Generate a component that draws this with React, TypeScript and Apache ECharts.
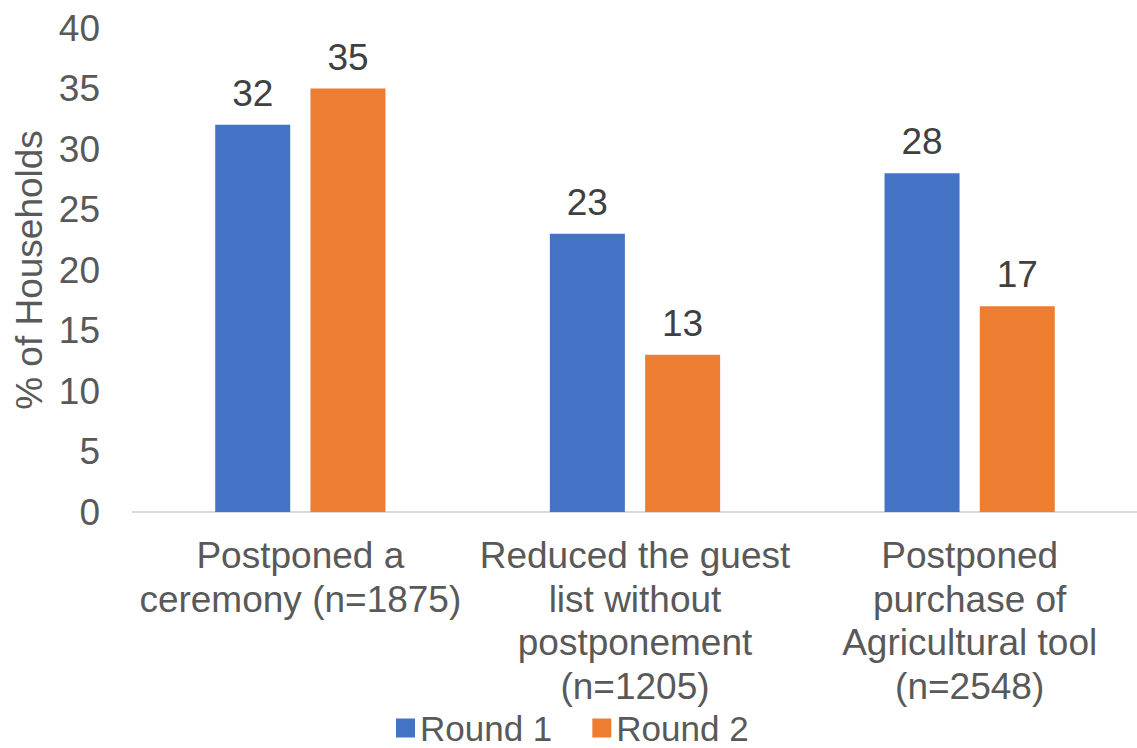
import React, { useEffect, useRef } from "react";
import * as echarts from "echarts";

const categories = [
  "Postponed a\nceremony (n=1875)",
  "Reduced the guest\nlist without\npostponement\n(n=1205)",
  "Postponed\npurchase of\nAgricultural tool\n(n=2548)",
];
const round1 = [32, 23, 28];
const round2 = [35, 13, 17];
const seriesNames = ["Round 1", "Round 2"];
const yTicks = { min: 0, max: 40, interval: 5 };

export default function App() {
  const ref = useRef<HTMLDivElement>(null);
  useEffect(() => {
    if (!ref.current) return;
    const chart = echarts.init(ref.current, null, { renderer: "svg" });
    const font = "Arial, 'Liberation Sans', sans-serif";
    const fs = 37;
    const labelStyle = {
      show: true,
      position: "top",
      distance: 13,
      color: "#404040",
      fontSize: fs,
      fontFamily: font,
    };
    chart.setOption({
      animation: false,
      backgroundColor: "#ffffff",
      textStyle: { fontFamily: font },
      grid: { left: 133, top: 28, width: 1011, height: 484, containLabel: false },
      legend: {
        data: seriesNames,
        left: 396,
        top: 708,
        itemWidth: 19,
        itemHeight: 19,
        itemGap: 40,
        icon: "rect",
        padding: 0,
        textStyle: { color: "#595959", fontSize: 35, fontFamily: font, lineHeight: 40 },
      },
      xAxis: {
        type: "category",
        data: categories,
        axisLine: { lineStyle: { color: "#d9d9d9", width: 2 } },
        axisTick: { show: false },
        axisLabel: {
          color: "#595959",
          fontSize: fs,
          fontFamily: font,
          lineHeight: 43.5,
          margin: 22,
          interval: 0,
          align: "center",
        },
      },
      yAxis: {
        type: "value",
        min: yTicks.min,
        max: yTicks.max,
        interval: yTicks.interval,
        name: "% of Households",
        nameLocation: "middle",
        nameGap: 83,
        nameRotate: 90,
        nameTextStyle: { color: "#595959", fontSize: fs, fontFamily: font },
        splitLine: { show: false },
        axisLine: { show: false },
        axisTick: { show: false },
        axisLabel: { color: "#595959", fontSize: fs, fontFamily: font, margin: 33 },
      },
      series: [
        {
          name: seriesNames[0],
          type: "bar",
          data: round1,
          barWidth: 75,
          barGap: "27%",
          itemStyle: { color: "#4472C4" },
          label: labelStyle,
        },
        {
          name: seriesNames[1],
          type: "bar",
          data: round2,
          barWidth: 75,
          barGap: "27%",
          itemStyle: { color: "#ED7D31" },
          label: labelStyle,
        },
      ],
    });
    return () => chart.dispose();
  }, []);
  return <div ref={ref} style={{ width: 1137, height: 748, position: "absolute", left: 0, top: 0 }} />;
}
